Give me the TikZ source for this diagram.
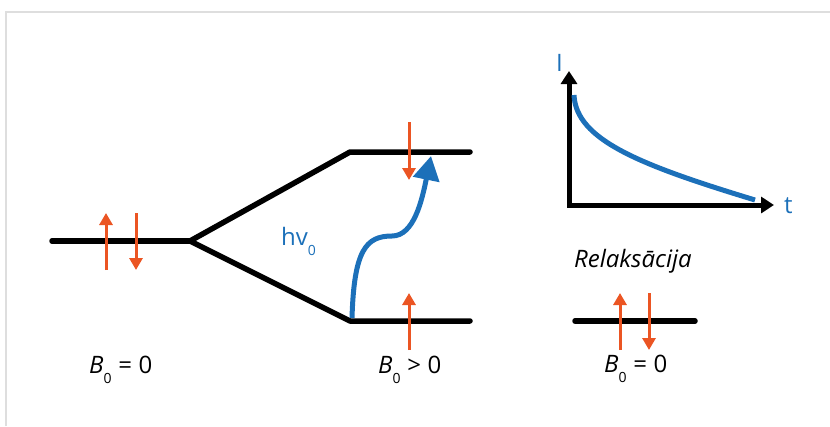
\documentclass[tikz,border=0pt]{standalone}
\usepackage{fontspec}
\setmainfont{Open Sans}
\usetikzlibrary{arrows.meta}
\definecolor{spinorange}{RGB}{235,85,35}
\definecolor{photonblue}{RGB}{28,112,185}
\definecolor{framegray}{RGB}{222,222,222}
\newcommand{\lowsub}[1]{\raisebox{-0.42em}{\fontsize{14}{14}\selectfont #1}}
\newcommand{\Bzero}{\textit{B}\lowsub{0}}

\begin{document}
\begin{tikzpicture}[x=1pt,y=-1pt,
		level/.style={line width=5.5pt,line cap=round},
		spin/.style={spinorange,line width=3pt,-{Triangle[width=13pt,length=12pt]}},
		photon/.style={photonblue,line width=5pt},
		axis/.style={line width=5pt,{Triangle[width=16pt,length=13pt]}-{Triangle[width=16pt,length=13pt]}},
		lbl/.style={font=\fontsize{24}{28}\selectfont,inner sep=0pt}]
		\useasboundingbox (0,0) rectangle (830,426);
		\draw[framegray,line width=2pt] (6,426) -- (6,12) -- (830,12);
		
		% B_0 = 0
		\coordinate (lev0) at (52,241); \coordinate (split) at (190,241);
		\draw[level] (lev0) -- (split);
		\draw[spin] (106,270) -- (106,213);
		\draw[spin] (136,213) -- (136,270);
		\node[lbl,anchor=base west] (bzero) at (89,373) {\Bzero\;=\;0};
		
		% B_0 > 0
		\coordinate (upL) at (350,152); \coordinate (upR) at (470,152);
		\coordinate (loL) at (350,321); \coordinate (loR) at (470,321);
		\draw[level,line join=round] (split) -- (upL) -- (upR);
		\draw[level,line join=round] (split) -- (loL) -- (loR);
		\draw[spin] (409,122) -- (409,180);
		\draw[spin] (409,350) -- (409,293);
		\draw[photon,-{Triangle[width=26pt,length=24pt]}] (352,318)
			.. controls (354,250) and (366,236) .. (392,236)
			.. controls (414,236) and (422,200) .. (431,156);
		\node[lbl,photonblue,anchor=base west] (hnu) at (281,245) {hv\lowsub{0}};
		\node[lbl,anchor=base west] (bpos) at (378,373) {\Bzero\;>\;0};
		
		% relaksacija
		\coordinate (origin) at (569,205);
		\draw[axis] (569,71) -- (origin) -- (774,205);
		\node[lbl,photonblue,anchor=base west] (ilbl) at (556,71) {I};
		\node[lbl,photonblue,anchor=base west] (tlbl) at (784,213) {t};
		\draw[photon] (574,95) .. controls (576,140) and (640,165) .. (755,200);
		\node[lbl,anchor=base west] (relax) at (574,267) {\textit{Relaksācija}};
		\coordinate (relL) at (575,321); \coordinate (relR) at (695,321);
		\draw[level] (relL) -- (relR);
		\draw[spin] (620,350) -- (620,293);
		\draw[spin] (649,293) -- (649,350);
		\node[lbl,anchor=base west] (brel) at (604,372) {\Bzero\;=\;0};
	\end{tikzpicture}
\end{document}
